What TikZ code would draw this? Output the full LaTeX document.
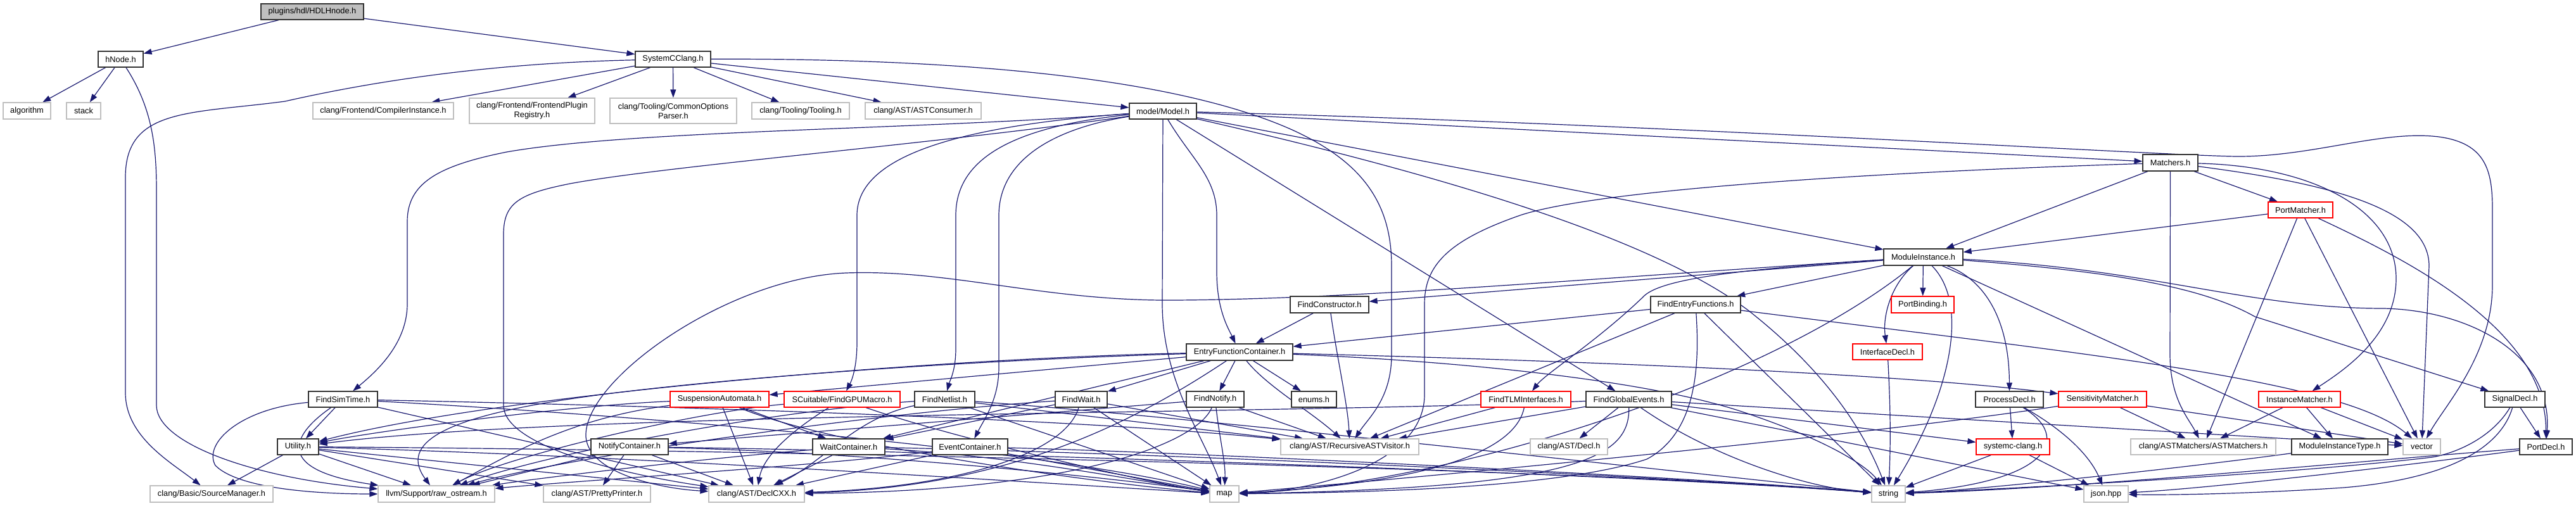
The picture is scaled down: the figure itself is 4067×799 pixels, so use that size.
\documentclass[tikz,border=0pt]{standalone}
\usepackage{fontspec}
\setmainfont{Liberation Sans}
\usetikzlibrary{arrows.meta}
\definecolor{edgec}{HTML}{191970}
\definecolor{grayb}{HTML}{BFBFBF}
\definecolor{rootfill}{HTML}{BFBFBF}
\definecolor{redb}{HTML}{FF0000}
\pgfdeclarelayer{bg}
\pgfsetlayers{bg,main}
\tikzset{
  box/.style={fill=white, inner sep=0pt, align=center, line width=1.2pt,
    font=\fontsize{12.8}{15}\selectfont},
  nb/.style={box, draw=black!80},
  ng/.style={box, draw=grayb},
  nr/.style={box, draw=redb},
  e/.style={draw=edgec, line width=1.2pt, -{Triangle[length=13pt,width=9pt]}},
}
\begin{document}
\begin{tikzpicture}[x=1pt,y=-1pt]
\useasboundingbox (0,0) rectangle (4067,799);
% ---------------- nodes ----------------
\node[nb,fill=rootfill,minimum width=162,minimum height=25] (root) at (493,18.5) {plugins/hdl/HDLHnode.h};
\node[nb,minimum width=71,minimum height=25] (hnode) at (190.5,93.5) {hNode.h};
\node[ng,minimum width=75,minimum height=26] (algorithm) at (42.5,175) {algorithm};
\node[ng,minimum width=54,minimum height=26] (stack) at (132,175) {stack};
\node[ng,minimum width=222,minimum height=26] (compinst) at (605,175) {clang/Frontend/CompilerInstance.h};
\node[ng,minimum width=198,minimum height=40] (fplugin) at (840,175) {clang/Frontend/FrontendPlugin\\Registry.h};
\node[ng,minimum width=200,minimum height=40] (cop) at (1063,175) {clang/Tooling/CommonOptions\\Parser.h};
\node[nb,minimum width=119,minimum height=25] (scc) at (1062.5,93.5) {SystemCClang.h};
\node[ng,minimum width=154,minimum height=26] (tooling) at (1264,175) {clang/Tooling/Tooling.h};
\node[ng,minimum width=183,minimum height=26] (astcons) at (1457.5,175) {clang/AST/ASTConsumer.h};
\node[nb,minimum width=106,minimum height=25] (model) at (1836,175.5) {model/Model.h};
\node[nb,minimum width=87,minimum height=26] (matchers) at (3426.5,257) {Matchers.h};
\node[nr,minimum width=102,minimum height=25] (portmatcher) at (3632,331.5) {PortMatcher.h};
\node[nb,minimum width=125,minimum height=26] (modinst) at (3036.5,406) {ModuleInstance.h};
\node[nb,minimum width=124,minimum height=26] (findctor) at (2099,481) {FindConstructor.h};
\node[nb,minimum width=142,minimum height=26] (findentry) at (2677,481) {FindEntryFunctions.h};
\node[nr,minimum width=99,minimum height=26] (portbinding) at (3035.5,481) {PortBinding.h};
\node[nb,minimum width=168,minimum height=26] (efc) at (1957,556) {EntryFunctionContainer.h};
\node[nr,minimum width=110,minimum height=25] (ifdecl) at (2980,555.5) {InterfaceDecl.h};
\node[nb,minimum width=109,minimum height=25] (findsim) at (541.5,630.5) {FindSimTime.h};
\node[nr,minimum width=156,minimum height=25] (suspaut) at (1136,630.5) {SuspensionAutomata.h};
\node[nr,minimum width=183,minimum height=25] (gpumacro) at (1329.5,630.5) {SCuitable/FindGPUMacro.h};
\node[nb,minimum width=95,minimum height=25] (findnetlist) at (1491.5,630.5) {FindNetlist.h};
\node[nb,minimum width=82,minimum height=25] (findwait) at (1707,630.5) {FindWait.h};
\node[nb,minimum width=91,minimum height=25] (findnotify) at (1918.5,630.5) {FindNotify.h};
\node[nb,minimum width=71,minimum height=25] (enums) at (2074.5,630.5) {enums.h};
\node[nr,minimum width=142,minimum height=25] (findtlm) at (2409,630.5) {FindTLMInterfaces.h};
\node[nb,minimum width=135,minimum height=25] (findglobal) at (2571.5,630.5) {FindGlobalEvents.h};
\node[nb,minimum width=107,minimum height=25] (procdecl) at (3172.5,630.5) {ProcessDecl.h};
\node[nr,minimum width=139,minimum height=25] (sensmatch) at (3319.5,630.5) {SensitivityMatcher.h};
\node[nr,minimum width=129,minimum height=25] (instmatch) at (3630.5,630.5) {InstanceMatcher.h};
\node[nb,minimum width=95,minimum height=25] (signaldecl) at (3970.5,630.5) {SignalDecl.h};
\node[nb,minimum width=65,minimum height=25] (utility) at (470.5,705.5) {Utility.h};
\node[nb,minimum width=122,minimum height=25] (notifycont) at (994,705.5) {NotifyContainer.h};
\node[nb,minimum width=114,minimum height=25] (waitcont) at (1340,705.5) {WaitContainer.h};
\node[nb,minimum width=119,minimum height=25] (eventcont) at (1531.5,705.5) {EventContainer.h};
\node[ng,minimum width=218,minimum height=25] (rav) at (2131,705.5) {clang/AST/RecursiveASTVisitor.h};
\node[ng,minimum width=122,minimum height=25] (decl) at (2477,705.5) {clang/AST/Decl.h};
\node[nr,minimum width=116,minimum height=25] (sccheader) at (3178,705.5) {systemc-clang.h};
\node[ng,minimum width=229,minimum height=25] (astmatchers) at (3478.5,705.5) {clang/ASTMatchers/ASTMatchers.h};
\node[nb,minimum width=152,minimum height=25] (mitype) at (3694,705.5) {ModuleInstanceType.h};
\node[ng,minimum width=59,minimum height=25] (vector) at (3823.5,705.5) {vector};
\node[nb,minimum width=83,minimum height=25] (portdecl) at (4019.5,705.5) {PortDecl.h};
\node[ng,minimum width=194,minimum height=26] (srcmgr) at (334,780) {clang/Basic/SourceManager.h};
\node[ng,minimum width=184,minimum height=26] (rawos) at (689,780) {llvm/Support/raw\_ostream.h};
\node[ng,minimum width=169,minimum height=26] (pretty) at (942.5,780) {clang/AST/PrettyPrinter.h};
\node[ng,minimum width=151,minimum height=26] (declcxx) at (1194.5,780) {clang/AST/DeclCXX.h};
\node[ng,minimum width=46,minimum height=26] (map) at (1933,780) {map};
\node[ng,minimum width=53,minimum height=26] (string) at (2981.5,780) {string};
\node[ng,minimum width=70,minimum height=26] (json) at (3325,780) {json.hpp};
% ---------------- edges ----------------
\begin{pgfonlayer}{bg}
% root, hNode, SystemCClang
\draw[e] (root) -- (hnode);
\draw[e] (root) -- (scc);
\draw[e] (hnode) -- (algorithm);
\draw[e] (hnode) -- (stack);
\draw[e] (hnode) .. controls (240,170) and (247,230) .. (247,300) -- (247,640) .. controls (247,700) and (400,755) .. (rawos);
\draw[e] (scc) .. controls (750,100) and (560,135) .. (450,160) .. controls (300,180) and (198,170) .. (198,280) -- (198,620) .. controls (198,690) and (270,730) .. (srcmgr);
\draw[e] (scc) -- (compinst);
\draw[e] (scc) -- (fplugin);
\draw[e] (scc) -- (cop);
\draw[e] (scc) -- (tooling);
\draw[e] (scc) -- (astcons);
\draw[e] (scc) -- (model);
\draw[e] (scc) .. controls (1500,92) and (1850,120) .. (2040,205) .. controls (2150,255) and (2197,320) .. (2197,420) -- (2197,560) .. controls (2197,630) and (2160,660) .. (rav);
% Model.h
\draw[e] (model) .. controls (1450,205) and (1000,205) .. (800,240) .. controls (690,262) and (643,290) .. (643,350) -- (643,480) .. controls (643,545) and (590,590) .. (findsim);
\draw[e] (model) .. controls (1500,225) and (1050,262) .. (900,290) .. controls (820,306) and (795,320) .. (795,370) -- (795,640) .. controls (795,700) and (960,745) .. (declcxx);
\draw[e] (model) .. controls (1500,200) and (1353,250) .. (1353,340) -- (1353,540) .. controls (1353,580) and (1345,600) .. (gpumacro);
\draw[e] (model) .. controls (1600,200) and (1509,250) .. (1509,340) -- (1509,550) .. controls (1509,585) and (1500,600) .. (findnetlist);
\draw[e] (model) .. controls (1650,205) and (1577,260) .. (1577,340) -- (1577,580) .. controls (1577,630) and (1555,660) .. (eventcont);
\draw[e] (model) -- (1835,480) .. controls (1835,600) and (1900,690) .. (map);
\draw[e] (model) .. controls (1880,250) and (1921,280) .. (1921,340) -- (1921,430) .. controls (1921,490) and (1940,520) .. (efc);
\draw[e] (model) -- (findglobal);
\draw[e] (model) .. controls (2250,270) and (2600,370) .. (2760,490) .. controls (2900,600) and (2950,700) .. (string);
\draw[e] (model) -- (modinst);
\draw[e] (model) -- (matchers);
\draw[e] (model) .. controls (2600,195) and (3400,245) .. (3530,247) .. controls (3650,248) and (3760,205) .. (3850,216) .. controls (3925,226) and (3935,270) .. (3935,330) -- (3935,450) .. controls (3935,560) and (3860,640) .. (vector);
% Matchers.h
\draw[e] (matchers) -- (modinst);
\draw[e] (matchers) -- (portmatcher);
\draw[e] (matchers) -- (3426,560) .. controls (3426,630) and (3455,660) .. (astmatchers);
\draw[e] (matchers) .. controls (2950,272) and (2520,300) .. (2400,340) .. controls (2285,380) and (2249,420) .. (2249,480) -- (2249,620) .. controls (2252,730) and (2080,775) .. (map);
\draw[e] (matchers) .. controls (3650,262) and (3783,330) .. (3783,440) .. controls (3783,530) and (3700,585) .. (instmatch);
\draw[e] (matchers) .. controls (3680,290) and (3835,330) .. (3835,420) -- (vector);
% PortMatcher.h
\draw[e] (portmatcher) -- (modinst);
\draw[e] (portmatcher) -- (astmatchers);
\draw[e] (portmatcher) -- (vector);
\draw[e] (portmatcher) .. controls (3800,410) and (4020,520) .. (portdecl);
% ModuleInstance.h
\draw[e] (modinst) .. controls (2500,440) and (2150,472) .. (1856,474) .. controls (1650,476) and (1500,425) .. (1336,431) .. controls (1150,438) and (920,600) .. (925,690) .. controls (930,750) and (1050,772) .. (declcxx);
\draw[e] (modinst) -- (findctor);
\draw[e] (modinst) -- (findentry);
\draw[e] (modinst) -- (portbinding);
\draw[e] (modinst) .. controls (2985,450) and (2972,500) .. (ifdecl);
\draw[e] (modinst) .. controls (2750,425) and (2620,440) .. (2594,469) .. controls (2520,540) and (2440,590) .. (findtlm);
\draw[e] (modinst) .. controls (2800,600) and (2300,765) .. (map);
\draw[e] (modinst) .. controls (3110,480) and (3080,620) .. (string);
\draw[e] (modinst) .. controls (3130,440) and (3172,500) .. (procdecl);
\draw[e] (modinst) -- (mitype);
\draw[e] (modinst) .. controls (3350,430) and (3480,455) .. (3560,500) -- (signaldecl);
\draw[e] (modinst) .. controls (3400,425) and (3550,487) .. (3763,487) .. controls (3900,490) and (4030,560) .. (portdecl);
% FindConstructor / FindEntryFunctions / FindTLM / FindGlobalEvents
\draw[e] (findctor) -- (efc);
\draw[e] (findctor) .. controls (2110,560) and (2128,640) .. (rav);
\draw[e] (findentry) -- (efc);
\draw[e] (findentry) -- (rav);
\draw[e] (findentry) .. controls (2682,560) and (2685,680) .. (2600,725) .. controls (2450,775) and (2100,778) .. (map);
\draw[e] (findentry) -- (string);
\draw[e] (findentry) .. controls (3300,560) and (3700,600) .. (vector);
\draw[e] (findtlm) -- (rav);
\draw[e] (findtlm) .. controls (2395,700) and (2300,760) .. (map);
\draw[e] (findglobal) -- (rav);
\draw[e] (findglobal) -- (decl);
\draw[e] (findglobal) .. controls (2573,720) and (2500,770) .. (map);
\draw[e] (findglobal) .. controls (2700,720) and (2850,770) .. (string);
\draw[e] (findglobal) -- (vector);
\draw[e] (findglobal) -- (sccheader);
\draw[e] (findglobal) -- (json);
\draw[e] (findglobal) .. controls (2000,655) and (900,650) .. (utility);
% EntryFunctionContainer.h
\draw[e] (efc) -- (findwait);
\draw[e] (efc) -- (findnotify);
\draw[e] (efc) -- (enums);
\draw[e] (efc) -- (waitcont);
\draw[e] (efc) -- (suspaut);
\draw[e] (efc) .. controls (1500,565) and (800,620) .. (utility);
\draw[e] (efc) .. controls (1500,570) and (1100,600) .. (900,630) .. controls (700,660) and (630,700) .. (rawos);
\draw[e] (efc) .. controls (1800,660) and (1600,770) .. (declcxx);
\draw[e] (efc) .. controls (2300,570) and (2600,600) .. (2750,650) .. controls (2900,700) and (2950,740) .. (string);
\draw[e] (efc) .. controls (2500,570) and (3000,590) .. (sensmatch);
\draw[e] (efc) .. controls (2000,610) and (2070,650) .. (rav);
% FindSimTime.h, Utility.h
\draw[e] (findsim) -- (utility);
\draw[e] (findsim) .. controls (380,645) and (320,700) .. (340,735) .. controls (380,775) and (520,780) .. (rawos);
\draw[e] (findsim) .. controls (470,680) and (420,740) .. (rawos);
\draw[e] (findsim) -- (declcxx);
\draw[e] (findsim) .. controls (1000,640) and (1700,660) .. (rav);
\draw[e] (findsim) .. controls (900,650) and (1600,700) .. (map);
\draw[e] (utility) -- (srcmgr);
\draw[e] (utility) -- (rawos);
\draw[e] (utility) -- (pretty);
\draw[e] (utility) -- (declcxx);
\draw[e] (utility) .. controls (1200,710) and (2500,740) .. (string);
\draw[e] (utility) .. controls (1000,720) and (1600,760) .. (map);
% containers
\draw[e] (notifycont) -- (pretty);
\draw[e] (notifycont) -- (declcxx);
\draw[e] (notifycont) -- (rawos);
\draw[e] (notifycont) .. controls (1400,715) and (1800,760) .. (map);
\draw[e] (notifycont) .. controls (1500,712) and (2600,750) .. (string);
\draw[e] (waitcont) -- (declcxx);
\draw[e] (waitcont) .. controls (1100,725) and (850,755) .. (rawos);
\draw[e] (waitcont) .. controls (1600,720) and (1800,760) .. (map);
\draw[e] (waitcont) .. controls (1800,715) and (2600,750) .. (string);
\draw[e] (eventcont) -- (declcxx);
\draw[e] (eventcont) -- (map);
\draw[e] (eventcont) .. controls (1900,715) and (2700,755) .. (string);
\draw[e] (eventcont) .. controls (1300,735) and (900,760) .. (rawos);
% SuspensionAutomata, FindGPUMacro, FindNetlist, FindWait, FindNotify
\draw[e] (suspaut) -- (declcxx);
\draw[e] (suspaut) -- (waitcont);
\draw[e] (suspaut) .. controls (1300,700) and (1700,760) .. (map);
\draw[e] (suspaut) .. controls (900,640) and (600,680) .. (utility);
\draw[e] (suspaut) .. controls (900,660) and (800,720) .. (rawos);
\draw[e] (gpumacro) .. controls (1250,680) and (1205,720) .. (declcxx);
\draw[e] (gpumacro) .. controls (1500,690) and (1800,760) .. (map);
\draw[e] (gpumacro) .. controls (1100,650) and (800,720) .. (rawos);
\draw[e] (findnetlist) -- (rav);
\draw[e] (findnetlist) -- (map);
\draw[e] (findnetlist) .. controls (1350,660) and (1300,730) .. (declcxx);
\draw[e] (findnetlist) .. controls (1200,650) and (850,720) .. (rawos);
\draw[e] (findnetlist) .. controls (1900,660) and (2600,740) .. (string);
\draw[e] (findwait) -- (waitcont);
\draw[e] (findwait) .. controls (1680,720) and (1500,770) .. (declcxx);
\draw[e] (findwait) -- (map);
\draw[e] (findwait) -- (rav);
\draw[e] (findwait) .. controls (1400,650) and (900,720) .. (rawos);
\draw[e] (findnotify) -- (notifycont);
\draw[e] (findnotify) .. controls (1890,700) and (1700,775) .. (declcxx);
\draw[e] (findnotify) .. controls (1925,690) and (1935,730) .. (map);
\draw[e] (findnotify) -- (rav);
% right part
\draw[e] (ifdecl) .. controls (2985,650) and (2985,700) .. (string);
\draw[e] (procdecl) -- (sccheader);
\draw[e] (procdecl) .. controls (3260,680) and (3300,720) .. (json);
\draw[e] (procdecl) .. controls (3270,690) and (3240,760) .. (string);
\draw[e] (sensmatch) -- (astmatchers);
\draw[e] (sensmatch) -- (vector);
\draw[e] (sensmatch) .. controls (3000,680) and (2400,740) .. (map);
\draw[e] (instmatch) -- (astmatchers);
\draw[e] (instmatch) -- (mitype);
\draw[e] (instmatch) -- (vector);
\draw[e] (sccheader) -- (json);
\draw[e] (sccheader) -- (string);
\draw[e] (mitype) .. controls (3400,745) and (3100,775) .. (string);
\draw[e] (signaldecl) -- (portdecl);
\draw[e] (signaldecl) .. controls (3950,700) and (3880,755) .. (3700,770) .. controls (3550,780) and (3420,782) .. (json);
\draw[e] (signaldecl) .. controls (3935,690) and (3880,715) .. (3840,722) .. controls (3600,750) and (3200,770) .. (string);
\draw[e] (portdecl) .. controls (3800,735) and (3500,770) .. (json);
\draw[e] (portdecl) .. controls (3700,730) and (3300,770) .. (string);
\end{pgfonlayer}
\end{tikzpicture}
\end{document}
